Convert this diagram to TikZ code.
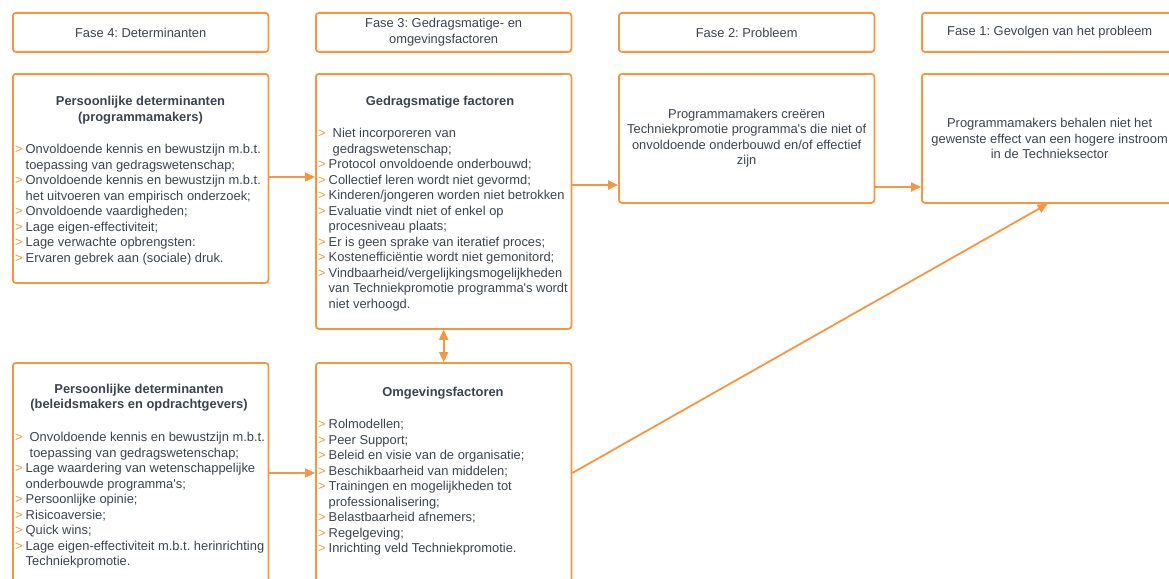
\documentclass[tikz,border=0pt]{standalone}
\usepackage{fontspec}
\setmainfont{Liberation Sans}
\usetikzlibrary{arrows.meta}
\definecolor{lorange}{HTML}{F7963E}
\definecolor{ltext}{HTML}{3C4350}
\frenchspacing
\newcommand\fsz{\fontsize{12.9}{15.5}\selectfont}
\newcommand\gt{\makebox[10.5pt][l]{\textcolor{lorange}{>}}}
\newcommand\ind{\hspace*{10.5pt}}
\newcommand\apos{\textquotesingle}

\begin{document}
\begin{tikzpicture}[x=1pt,y=-1pt,
  box/.style={draw=lorange, line width=1.8pt, rounded corners=3pt, anchor=north west,
    inner sep=0pt, minimum width=255.5pt, text=ltext, font=\fsz, align=center},
  hdr/.style={box, minimum height=39pt},
  cell/.style={box, minimum height=#1},
  ttl/.style={text=ltext, font=\fsz\bfseries, align=center, inner sep=0pt},
  lst/.style={anchor=base west, inner sep=0pt, text=ltext, font=\fsz},
  tip/.style={Triangle[length=10pt,width=9pt]},
  arr/.style={draw=lorange, line width=1.8pt, -{Triangle[length=10pt,width=9pt]}},
  darr/.style={draw=lorange, line width=1.8pt, {Triangle[length=10pt,width=9pt]}-{Triangle[length=10pt,width=9pt]}}
]
\useasboundingbox (0,0) rectangle (1169,578);
\fill[white] (0,0) rectangle (1169,578);
\clip (0,0) rectangle (1169,578);

% phase headers
\node[hdr] (h4) at (12,12)  {Fase 4: Determinanten};
\node[hdr] (h3) at (315,12) {Fase 3: Gedragsmatige- en\\omgevingsfactoren};
\node[hdr] (h2) at (618,12) {Fase 2: Probleem};
\node[hdr] (h1) at (921,12) {Fase 1: Gevolgen van het probleem};

% content boxes
\node[cell=209pt] (pd1) at (12,73)  {};
\node[cell=255pt] (gf)  at (315,73) {};
\node[cell=129pt] (pb)  at (618,73) {Programmamakers creëren\\Techniekpromotie programma\apos s die niet of\\onvoldoende onderbouwd en/of effectief\\zijn};
\node[cell=129pt] (gv)  at (921,73) {Programmamakers behalen niet het\\gewenste effect van een hogere instroom\\in de Technieksector};
\node[cell=240pt] (pd2) at (12,362) {};
\node[cell=240pt] (om)  at (315,362) {};

% personal determinants: programme makers
\node[ttl] (pd1t) at (140.5,110) {Persoonlijke determinanten\\(programmamakers)};
\node[lst] (pd1l) at (15,153.5) {\parbox[t]{300pt}{%
\gt Onvoldoende kennis en bewustzijn m.b.t.\\
\ind toepassing van gedragswetenschap;\\
\gt Onvoldoende kennis en bewustzijn m.b.t.\\
\ind het uitvoeren van empirisch onderzoek;\\
\gt Onvoldoende vaardigheden;\\
\gt Lage eigen-effectiviteit;\\
\gt Lage verwachte opbrengsten:\\
\gt Ervaren gebrek aan (sociale) druk.}};

% behavioural factors
\node[ttl] (gft) at (440,102) {Gedragsmatige factoren};
\node[lst] (gfl) at (318,137.5) {\parbox[t]{300pt}{%
\gt\hspace*{4pt}Niet incorporeren van\\
\ind\hspace*{4pt}gedragswetenschap;\\
\gt Protocol onvoldoende onderbouwd;\\
\gt Collectief leren wordt niet gevormd;\\
\gt Kinderen/jongeren worden niet betrokken\\
\gt Evaluatie vindt niet of enkel op\\
\ind procesniveau plaats;\\
\gt Er is geen sprake van iteratief proces;\\
\gt Kostenefficiëntie wordt niet gemonitord;\\
\gt Vindbaarheid/vergelijkingsmogelijkheden\\
\ind van Techniekpromotie programma\apos s wordt\\
\ind niet verhoogd.}};

% personal determinants: policy makers and clients
\node[ttl] (pd2t) at (139,397.5) {Persoonlijke determinanten\\(beleidsmakers en opdrachtgevers)};
\node[lst] (pd2l) at (15,441.5) {\parbox[t]{300pt}{%
\gt\hspace*{4pt}Onvoldoende kennis en bewustzijn m.b.t.\\
\ind\hspace*{4pt}toepassing van gedragswetenschap;\\
\gt Lage waardering van wetenschappelijke\\
\ind onderbouwde programma\apos s;\\
\gt Persoonlijke opinie;\\
\gt Risicoaversie;\\
\gt Quick wins;\\
\gt Lage eigen-effectiviteit m.b.t. herinrichting\\
\ind Techniekpromotie.}};

% environmental factors
\node[ttl] (omt) at (443,393) {Omgevingsfactoren};
\node[lst] (oml) at (318,428.5) {\parbox[t]{300pt}{%
\gt Rolmodellen;\\
\gt Peer Support;\\
\gt Beleid en visie van de organisatie;\\
\gt Beschikbaarheid van middelen;\\
\gt Trainingen en mogelijkheden tot\\
\ind professionalisering;\\
\gt Belastbaarheid afnemers;\\
\gt Regelgeving;\\
\gt Inrichting veld Techniekpromotie.}};

% connectors
\draw[arr] (pd1.east |- 0,177) -- (gf.west |- 0,177);
\draw[arr] (gf.east |- 0,185) -- (pb.west |- 0,185);
\draw[arr] (pb.east |- 0,187) -- (gv.west |- 0,187);
\draw[darr] (gf.south) -- (om.north);
\draw[arr] (pd2.east |- 0,473) -- (om.west |- 0,473);
\draw[arr] (om.east |- 0,473) -- ([xshift=-2pt]gv.south);
\end{tikzpicture}
\end{document}
